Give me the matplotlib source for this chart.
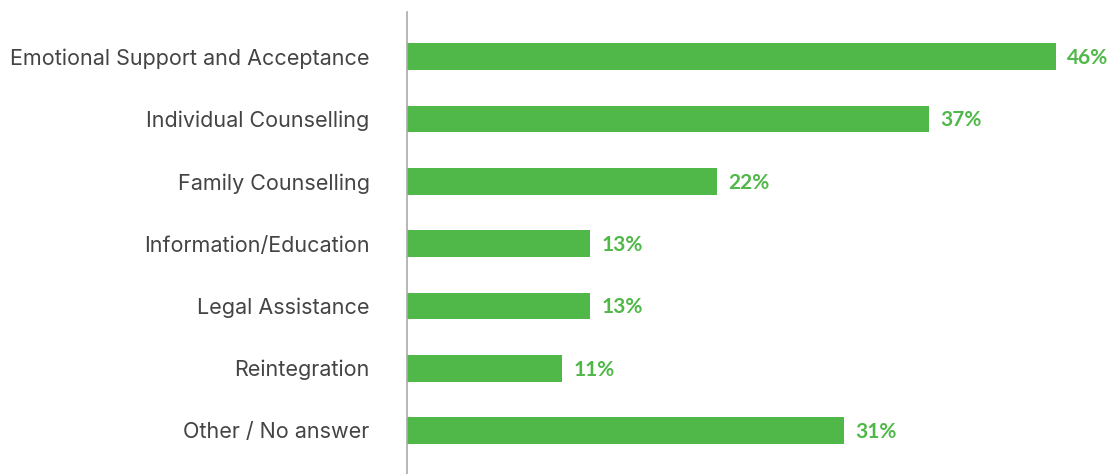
import matplotlib as mpl
import matplotlib.pyplot as plt
import numpy as np

categories = [
    "Emotional Support and Acceptance",
    "Individual Counselling",
    "Family Counselling",
    "Information/Education",
    "Legal Assistance",
    "Reintegration",
    "Other / No answer",
]
values = [46, 37, 22, 13, 13, 11, 31]

GREEN = "#50B848"

mpl.rcParams.update({"font.family": ["Inter", "DejaVu Sans"]})

fig = plt.figure(figsize=(11.13, 4.74), dpi=100)
ax = fig.add_axes([407 / 1113, 0, 705.5 / 1113, 462 / 474])

y = np.arange(len(categories))
ax.barh(y, values, height=0.43, color=GREEN, zorder=2)
for yi, v in zip(y, values):
    ax.annotate(f"{v}%", (v, yi), xytext=(8, -1), textcoords="offset points",
                ha="left", va="center", fontsize=15, fontweight="bold",
                color=GREEN, family=["Lato", "DejaVu Sans"], annotation_clip=False)

ax.set_xlim(0, 50)
ax.set_ylim(6.70, -0.72)
ax.set_yticks(y)
ax.set_yticklabels(categories, fontsize=15.5, color="#444444")
ax.tick_params(axis="y", length=0, pad=27)
ax.set_xticks([])
for side in ["top", "right", "bottom"]:
    ax.spines[side].set_visible(False)
ax.spines["left"].set_color("#AAAAAA")
ax.spines["left"].set_linewidth(1.2)

fig.savefig("out.png", dpi=100)
